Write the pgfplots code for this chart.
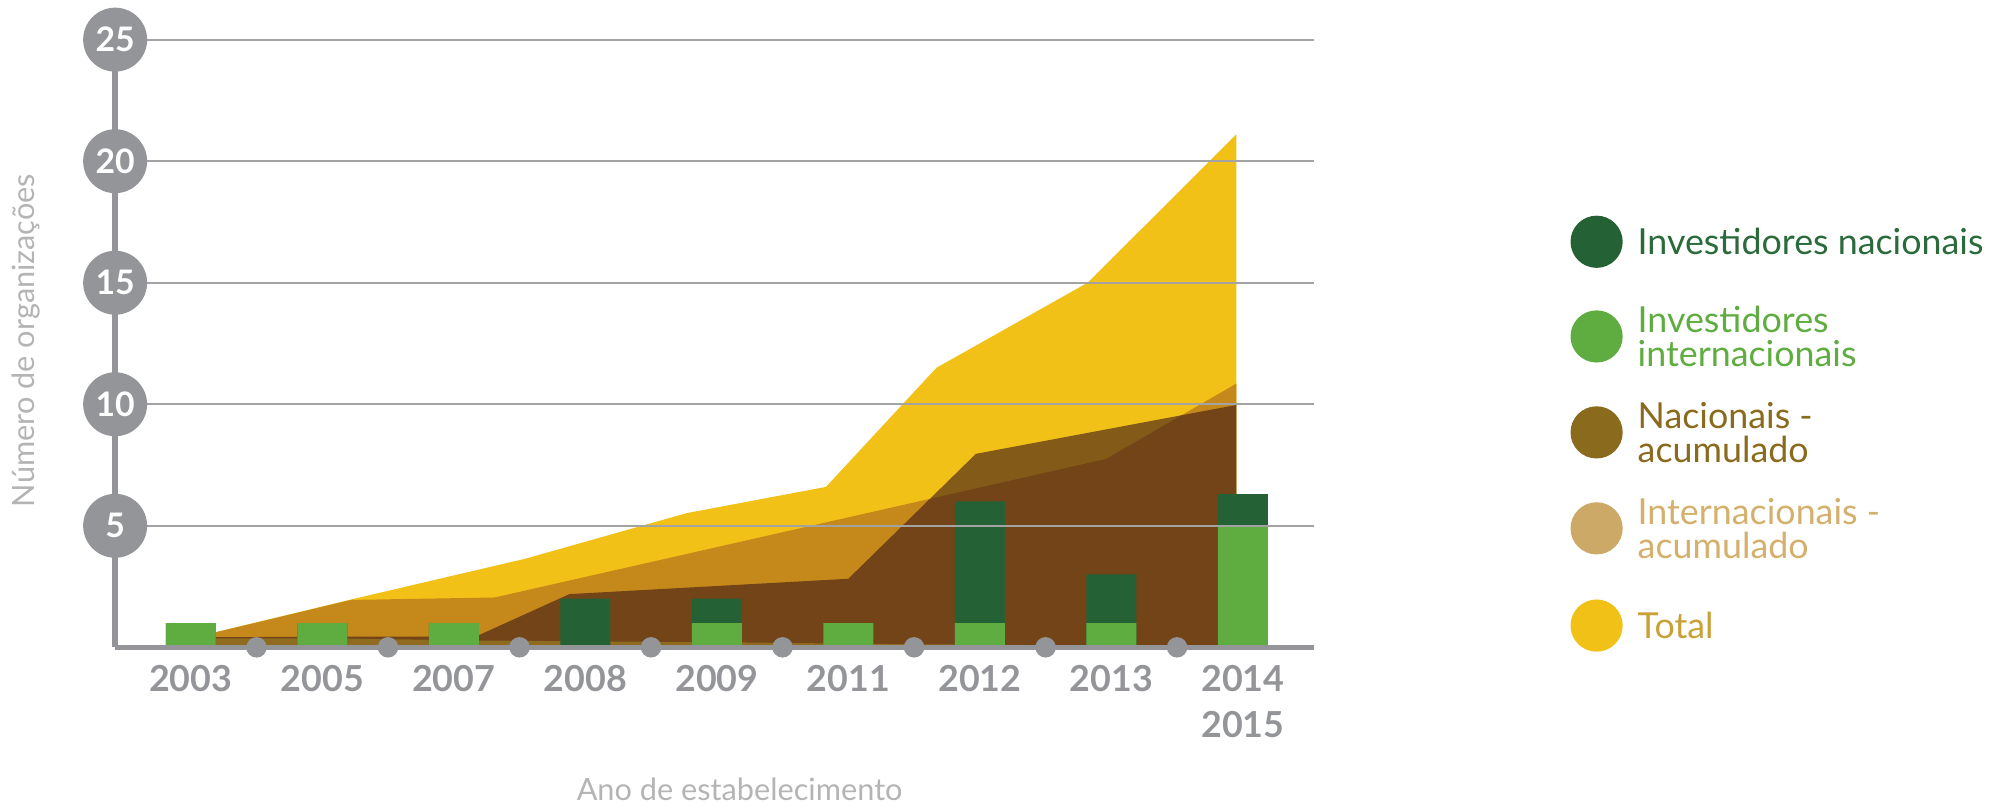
\documentclass[border=0pt]{standalone}
\usepackage{pgfplots}
\pgfplotsset{compat=1.18}
\usepackage{fontspec}
\setmainfont{Lato}

\definecolor{axisgray}{HTML}{939598}
\definecolor{gridgray}{HTML}{A3A3A3}
\definecolor{labelgray}{HTML}{B4B4B4}
\definecolor{totalyellow}{HTML}{F1C118}
\definecolor{intlacum}{HTML}{C4891A}
\definecolor{nacacum}{RGB}{60,22,24}
\definecolor{band}{HTML}{8E6B1E}
\definecolor{natgreen}{HTML}{246134}
\definecolor{intlgreen}{HTML}{5FAD41}
% legend colours
\definecolor{lgnacacum}{HTML}{8A6A1C}
\definecolor{lgintlacum}{HTML}{CDA968}
\definecolor{lgtotal}{HTML}{F2C118}
\definecolor{txnat}{HTML}{2B6B3B}
\definecolor{txintlacum}{HTML}{D4B06C}
\definecolor{txtotal}{HTML}{C9A137}

\begin{document}
\begin{tikzpicture}
  \begin{axis}[
    scale only axis,
    width=234.25pt,
    height=118.75pt,
    xmin=-0.575, xmax=8.54,
    ymin=0, ymax=25,
    clip=false,
    axis lines*=left,
    axis line style={draw=axisgray, line width=1.1pt},
    axis on top,
    ymajorgrids,
    grid style={draw=gridgray, line width=0.4pt},
    major tick length=0pt,
    ytick={5,10,15,20,25},
    /pgf/number format/assume math mode=true,
    yticklabel style={circle, fill=axisgray, text=white,
      font=\bfseries\fontsize{6.6}{7}\selectfont,
      minimum size=12.5pt, inner sep=0pt, anchor=center},
    xtick={0,...,8},
    xticklabels={2003,2005,2007,2008,2009,2011,2012,2013,{2014\\2015}},
    xticklabel style={align=center, text=axisgray,
      font=\bfseries\fontsize{7}{9}\selectfont,
      anchor=north, inner sep=0pt, yshift=-3.3pt},
    xlabel={Ano de estabelecimento},
    xlabel style={at={(axis description cs:0.521,-0.2337)}, anchor=center,
      text=labelgray, font=\fontsize{6}{7}\selectfont},
    ylabel={Número de organizações},
    ylabel style={at={(axis description cs:-0.0747,0.505)}, anchor=center,
      text=labelgray, font=\fontsize{6}{7}\selectfont},
  ]
  % Total
  \addplot[fill=totalyellow, draw=none] coordinates {
    (0.19,0.62) (1.22,1.97) (2.54,3.64) (3.77,5.52) (4.83,6.6)
    (5.67,11.5) (6.82,15.0) (7.95,21.1)
  } \closedcycle;
  % Internacionais - acumulado
  \addplot[fill=intlacum, draw=none] coordinates {
    (0.19,0.62) (1.22,1.95) (2.31,2.05) (6.96,7.75) (7.95,10.85)
  } \closedcycle;
  % Nacionais - acumulado
  \addplot[fill=nacacum, fill opacity=0.6, draw=none] coordinates {
    (0.19,0.42) (2.17,0.45) (2.88,2.19) (5.0,2.82) (5.97,7.96) (7.95,9.97)
  } \closedcycle;
  % thin band at the bottom
  \addplot[fill=band, draw=none] coordinates {
    (0.19,0.37) (1.2,0.36) (2.2,0.28) (3.2,0.24) (4.2,0.2)
    (5.2,0.14) (6.2,0.1) (7.2,0.07) (7.95,0.05)
  } \closedcycle;
  % bars: national on top of international (drawn as totals)
  \addplot[ybar, bar width=0.38, bar shift=0pt, fill=natgreen, draw=none] coordinates {
    (0,1) (1,1) (2,1) (3,2) (4,2) (5,1) (6,6) (7,3) (8,6.3)
  };
  \addplot[ybar, bar width=0.38, bar shift=0pt, fill=intlgreen, draw=none] coordinates {
    (0,1) (1,1) (2,1) (3,0) (4,1) (5,1) (6,1) (7,1) (8,5)
  };
  % dots on the x axis between categories
  \addplot[only marks, mark=*, mark size=1.8pt, color=axisgray] coordinates {
    (0.5,0) (1.5,0) (2.5,0) (3.5,0) (4.5,0) (5.5,0) (6.5,0) (7.5,0)
  };
  \end{axis}

  % legend
  \fill[natgreen] (289.5pt,79.25pt) circle (5.1pt);
  \node[anchor=west, align=left, text=txnat, font=\fontsize{7}{6.6}\selectfont]
    at (294pt,79.25pt) {Investidores nacionais};
  \fill[intlgreen] (289.5pt,60.75pt) circle (5.1pt);
  \node[anchor=west, align=left, text=intlgreen, font=\fontsize{7}{6.6}\selectfont]
    at (294pt,60.75pt) {Investidores\\internacionais};
  \fill[lgnacacum] (289.5pt,42pt) circle (5.1pt);
  \node[anchor=west, align=left, text=lgnacacum, font=\fontsize{7}{6.6}\selectfont]
    at (294pt,42pt) {Nacionais -\\acumulado};
  \fill[lgintlacum] (289.5pt,23.25pt) circle (5.1pt);
  \node[anchor=west, align=left, text=txintlacum, font=\fontsize{7}{6.6}\selectfont]
    at (294pt,23.25pt) {Internacionais -\\acumulado};
  \fill[lgtotal] (289.5pt,4.25pt) circle (5.1pt);
  \node[anchor=west, align=left, text=txtotal, font=\fontsize{7}{6.6}\selectfont]
    at (294pt,4.25pt) {Total};

  \pgfresetboundingbox
  \path (-22.5pt,-30.5pt) rectangle (369.5pt,126.5pt);
\end{tikzpicture}
\end{document}
